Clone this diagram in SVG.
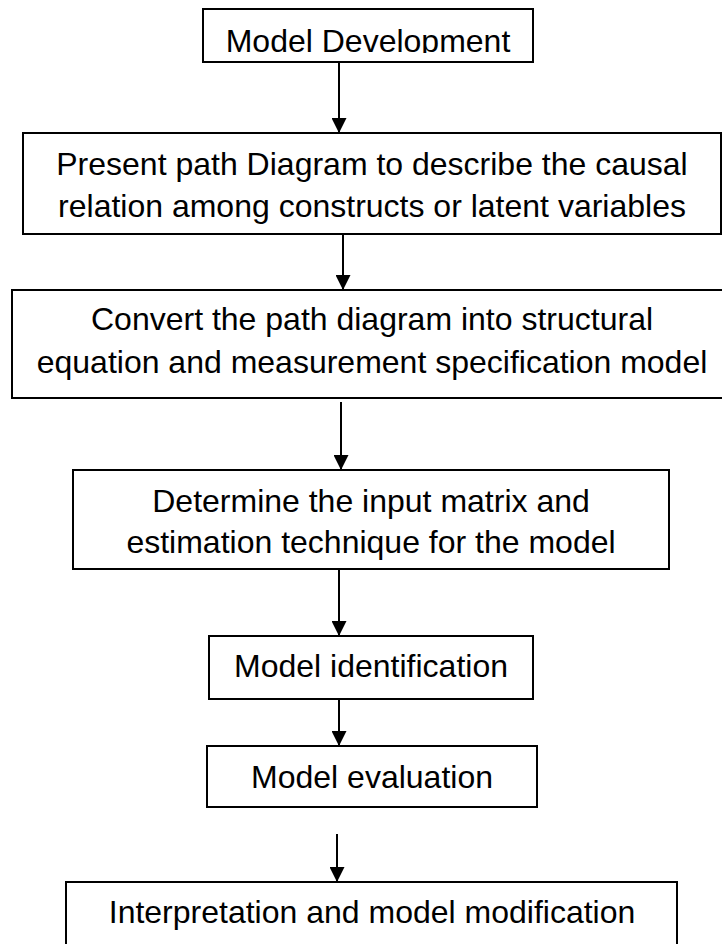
<svg xmlns="http://www.w3.org/2000/svg" width="722" height="944" viewBox="0 0 722 944">
  <style>
    .box { fill: #ffffff; stroke: #000000; stroke-width: 2; }
    .lbl { font-family: "Liberation Sans", Arial, sans-serif; font-size: 32px; fill: #000000; text-anchor: middle; }
    .edge { stroke: #000000; stroke-width: 2; fill: none; marker-end: url(#arrow); }
  </style>
  <defs>
    <marker id="arrow" markerUnits="userSpaceOnUse" markerWidth="15" markerHeight="15" refX="15" refY="7.5" orient="auto">
      <path d="M0,0 L15,7.5 L0,15 Z" fill="#000000"/>
    </marker>
    <clipPath id="clipTop">
      <rect x="203" y="9" width="330" height="44"/>
    </clipPath>
  </defs>
  <rect width="722" height="944" fill="#ffffff"/>

  <g id="connectors">
    <line class="edge" x1="339" y1="62" x2="339" y2="133"/>
    <line class="edge" x1="343" y1="234" x2="343" y2="290"/>
    <line class="edge" x1="341" y1="402" x2="341" y2="470"/>
    <line class="edge" x1="339" y1="570" x2="339" y2="636"/>
    <line class="edge" x1="339" y1="699" x2="339" y2="746"/>
    <line class="edge" x1="337" y1="834" x2="337" y2="882"/>
  </g>

  <g id="model-development">
    <rect class="box" x="203" y="9" width="330" height="53"/>
    <text class="lbl" x="368" y="52" clip-path="url(#clipTop)">Model Development</text>
  </g>

  <g id="path-diagram">
    <rect class="box" x="23" y="133" width="698" height="101"/>
    <text class="lbl" x="372" y="175">Present path Diagram to describe the causal</text>
    <text class="lbl" x="372" y="217">relation among constructs or latent variables</text>
  </g>

  <g id="convert">
    <rect class="box" x="12" y="290" width="720" height="108"/>
    <text class="lbl" x="372" y="330">Convert the path diagram into structural</text>
    <text class="lbl" x="372" y="373">equation and measurement specification model</text>
  </g>

  <g id="input-matrix">
    <rect class="box" x="73" y="470" width="596" height="99"/>
    <text class="lbl" x="371" y="512">Determine the input matrix and</text>
    <text class="lbl" x="371" y="553">estimation technique for the model</text>
  </g>

  <g id="identification">
    <rect class="box" x="209" y="636" width="324" height="63"/>
    <text class="lbl" x="371" y="677">Model identification</text>
  </g>

  <g id="evaluation">
    <rect class="box" x="207" y="746" width="330" height="61"/>
    <text class="lbl" x="372" y="788">Model evaluation</text>
  </g>

  <g id="interpretation">
    <rect class="box" x="66" y="882" width="611" height="70"/>
    <text class="lbl" x="372" y="923">Interpretation and model modification</text>
  </g>
</svg>
